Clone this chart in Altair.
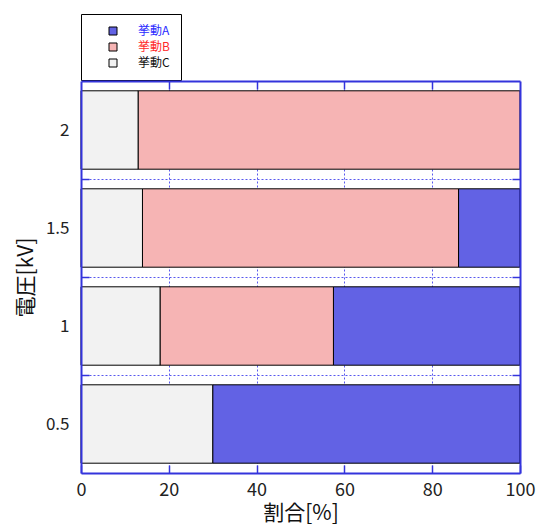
import altair as alt
import pandas as pd

# ---- data ----
volts = [0.5, 1, 1.5, 2]
share_a = [70, 42.5, 14, 0]
share_b = [0, 39.5, 72, 87]
share_c = [30, 18, 14, 13]
behaviors = ["挙動A", "挙動B", "挙動C"]
x_ticks = [0, 20, 40, 60, 80, 100]
x_inner = [20, 40, 60, 80]
y_bounds = [0.75, 1.25, 1.75]

colors = ["#6262e4", "#f6b4b4", "#f2f2f2"]

rows = []
for v, a, b, c in zip(volts, share_a, share_b, share_c):
    rows.append({"volt": v, "behavior": behaviors[0], "value": a})
    rows.append({"volt": v, "behavior": behaviors[1], "value": b})
    rows.append({"volt": v, "behavior": behaviors[2], "value": c})
df = pd.DataFrame(rows)

FONT = "Noto Sans CJK JP"
BLUE = "#3434dc"
GRID = "#5858ee"
INWARD = {"expr": "-8"}

base = (
    alt.Chart(df)
    .transform_filter("datum.value > 0")
    .transform_stack(
        stack="value",
        groupby=["volt"],
        as_=["x0", "x1"],
        sort=[alt.SortField("behavior", order="descending")],
    )
    .transform_calculate(lo="datum.volt - 0.2", hi="datum.volt + 0.2")
)

xs = alt.Scale(domain=[0, 100], nice=False, zero=False)
ys = alt.Scale(domain=[0.25, 2.25], nice=False, zero=False)

grid = base.mark_rect(opacity=0).encode(
    x=alt.X("x0:Q", scale=xs, axis=alt.Axis(orient="bottom", values=x_inner, grid=True,
                                             gridColor=GRID, gridDash=[2, 2], gridWidth=1,
                                             domain=False, ticks=False, labels=False,
                                             title=None, zindex=0)),
    x2="x1",
    y=alt.Y("lo:Q", scale=ys, axis=alt.Axis(orient="left", values=y_bounds, grid=True,
                                             gridColor=GRID, gridDash=[2, 2], gridWidth=1,
                                             domain=False, ticks=False, labels=False,
                                             title=None, zindex=0)),
    y2="hi",
)

label_color = ("datum.label === '挙動A' ? '#2a2aff' : "
               "(datum.label === '挙動B' ? '#ff2a2a' : '#111111')")

bars = base.mark_rect(stroke="black", strokeWidth=1).encode(
    x=alt.X("x0:Q", scale=xs, axis=alt.Axis(
        orient="bottom", values=x_ticks, grid=False, domainColor=BLUE, domainWidth=2,
        tickColor=BLUE, tickWidth=1.5, tickSize=INWARD, labelPadding=16,
        labelFontSize=18, labelColor="#222222", labelFlush=False, labelOverlap=False,
        title="割合[%]", titleFontSize=21, titleFontWeight="normal", titleColor="#111111",
        titlePadding=3, zindex=1)),
    x2="x1",
    y=alt.Y("lo:Q", scale=ys, axis=alt.Axis(
        orient="left", values=volts, format="~g", grid=False, domain=False, ticks=False,
        labelPadding=12, labelFontSize=17, labelColor="#222222",
        title="電圧[kV]", titleFontSize=21, titleFontWeight="normal", titleColor="#111111",
        titlePadding=9, zindex=1)),
    y2="hi",
    color=alt.Color("behavior:N", scale=alt.Scale(domain=behaviors, range=colors),
                    legend=alt.Legend(
                        orient="none", legendX=0, legendY=-67, title=None,
                        strokeColor="black", fillColor="white", padding=11,
                        symbolType="square", symbolSize=64, symbolStrokeColor="black",
                        symbolStrokeWidth=1, symbolOffset=15, labelOffset=19,
                        labelFontSize=12, rowPadding=4, labelColor={"expr": label_color})),
)

frame_top = base.mark_rect(opacity=0).encode(
    x=alt.X("x0:Q", scale=xs, axis=alt.Axis(
        orient="top", values=x_inner, domainColor=BLUE, domainWidth=2, tickColor=BLUE,
        tickWidth=1.5, tickSize=INWARD, labels=False, title=None, grid=False, zindex=1)),
    x2="x1",
    y=alt.Y("lo:Q", scale=ys, axis=alt.Axis(
        orient="left", values=y_bounds, domainColor=BLUE, domainWidth=2, tickColor=BLUE,
        tickWidth=1.5, tickSize=INWARD, labels=False, title=None, grid=False, zindex=1)),
    y2="hi",
)

frame_right = base.mark_rect(opacity=0).encode(
    x=alt.X("x0:Q", scale=xs, axis=None),
    x2="x1",
    y=alt.Y("lo:Q", scale=ys, axis=alt.Axis(
        orient="right", values=y_bounds, domainColor=BLUE, domainWidth=2, tickColor=BLUE,
        tickWidth=1.5, tickSize=INWARD, labels=False, title=None, grid=False, zindex=1)),
    y2="hi",
)

chart = (
    alt.layer(grid, bars, frame_top, frame_right)
    .resolve_axis(x="independent", y="independent")
    .properties(
        width=439, height=392,
        autosize=alt.AutoSizeParams(type="none"),
        padding={"left": 81, "top": 81, "right": 16, "bottom": 53},
    )
    .configure(font=FONT)
    .configure_view(stroke=None)
    .configure_axis(labelFont=FONT, titleFont=FONT)
    .configure_legend(labelFont=FONT)
)

chart.save("out.html", embed_options={"renderer": "svg", "actions": False})
